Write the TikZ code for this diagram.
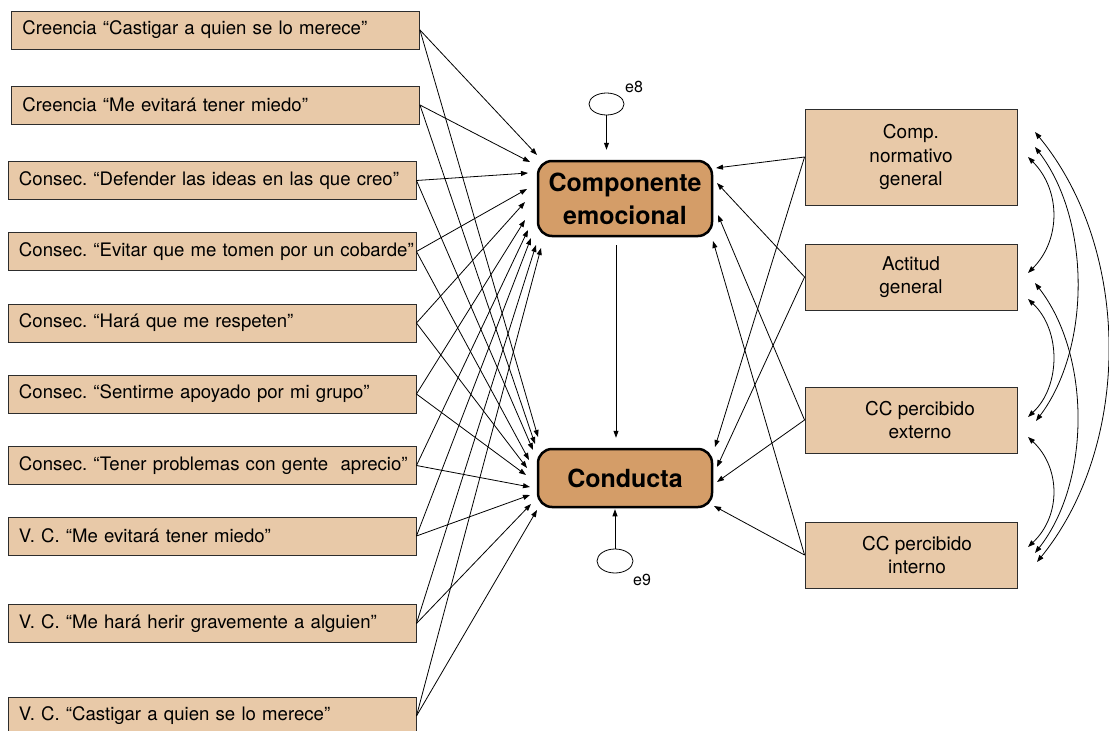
\documentclass[tikz,border=0pt]{standalone}
\usepackage{fontspec}
\setmainfont{TeX Gyre Heros}
\usetikzlibrary{arrows.meta,shapes.geometric,calc}
\definecolor{lboxc}{RGB}{232,201,168}
\definecolor{cboxc}{RGB}{212,157,104}
\definecolor{bord}{RGB}{45,45,45}
\frenchspacing
\begin{document}
\begin{tikzpicture}[x=1pt,y=-1pt,
  lbox/.style={draw=bord,line width=0.9pt,fill=lboxc,rectangle,text width=386pt,
    inner xsep=11pt,inner ysep=0pt,minimum height=38pt,align=left,
    font=\frenchspacing\fontsize{18.6}{23}\selectfont},
  rbox/.style={draw=bord,line width=0.9pt,fill=lboxc,rectangle,minimum width=212pt,
    inner sep=0pt,align=center,font=\fontsize{19}{23.5}\selectfont},
  cbox/.style={draw=black,line width=2.5pt,fill=cboxc,rectangle,rounded corners=14pt,
    minimum width=174pt,inner sep=0pt,align=center,
    font=\bfseries\fontsize{25}{33}\selectfont},
  err/.style={draw=black,line width=0.8pt,ellipse,inner sep=0pt},
  elab/.style={font=\fontsize{16}{16}\selectfont,inner sep=0pt},
  arr/.style={-{Triangle[length=7pt,width=5pt]},line width=0.8pt},
  dbl/.style={{Triangle[length=7pt,width=5pt]}-{Triangle[length=7pt,width=5pt]},line width=0.8pt}
]
\useasboundingbox (0,0) rectangle (1109,731);

% left boxes
\node[lbox] (L1) at (215.5,30) {\mbox{Creencia “Castigar a quien se lo merece”}};
\node[lbox] (L2) at (215.5,105) {\mbox{Creencia “Me evitará tener miedo”}};
\node[lbox] (L3) at (212,180.5) {\mbox{Consec. “Defender las ideas en las que creo”}};
\node[lbox] (L4) at (212,251.5) {\mbox{Consec. “Evitar que me tomen por un cobarde”}};
\node[lbox] (L5) at (212,323) {\mbox{Consec. “Hará que me respeten”}};
\node[lbox] (L6) at (212,394) {\mbox{Consec. “Sentirme apoyado por mi grupo”}};
\node[lbox] (L7) at (212,465.5) {\mbox{Consec. “Tener problemas con gente~~aprecio”}};
\node[lbox] (L8) at (212,536) {\mbox{V. C. “Me evitará tener miedo”}};
\node[lbox] (L9) at (212,623.5) {\mbox{V. C. “Me hará herir gravemente a alguien”}};
\node[lbox] (L10) at (212,716) {\mbox{V. C. “Castigar a quien se lo merece”}};

% central nodes
\node[cbox,minimum height=75pt] (ce) at (625,198.5) {Componente\\emocional};
\node[cbox,minimum height=58pt] (cd) at (625,478) {Conducta};

% errors
\node[err,minimum width=35pt,minimum height=22pt] (e8) at (606.5,104) {};
\node[elab] (e8t) at (634,87) {e8};
\node[err,minimum width=36pt,minimum height=24pt] (e9) at (615,561) {};
\node[elab] (e9t) at (642,580) {e9};

% right boxes
\node[rbox,minimum height=96pt] (R1) at (911,157) {Comp.\\normativo\\general};
\node[rbox,minimum height=66pt] (R2) at (911,277) {Actitud\\general};
\node[rbox,minimum height=66pt] (R3) at (911,420) {\hspace*{18pt}CC percibido\\\hspace*{18pt}externo};
\node[rbox,minimum height=66pt] (R4) at (911,555) {\hspace*{12pt}CC percibido\\\hspace*{12pt}interno};

% arrow targets on the left
\foreach \i/\x/\y in {1/537/155,2/530/162,3/528/173,4/527/189,5/525/202,
                      6/525/220,7/528/230,8/531/238,9/536/245,10/541/248}
  \coordinate (a\i) at (\x,\y);
\foreach \i/\x/\y in {1/538/437,2/535/444,3/533/450,4/529/460,5/527/468,
                      6/526/475,7/530/487,8/530/495,9/531/504,10/537/510}
  \coordinate (b\i) at (\x,\y);
% arrow targets on the right
\foreach \i/\x/\y in {1/716/168,2/717/183,3/718/215,4/713/241}
  \coordinate (c\i) at (\x,\y);
\foreach \i/\x/\y in {1/715/447,2/717/467,3/717/482,4/714/506}
  \coordinate (d\i) at (\x,\y);

\foreach \i in {1,...,10}{
  \draw[arr] (L\i.east) -- (a\i);
  \draw[arr] (L\i.east) -- (b\i);
}
\foreach \i in {1,...,4}{
  \draw[arr] (R\i.west) -- (c\i);
  \draw[arr] (R\i.west) -- (d\i);
}

% vertical arrows
\draw[arr,shorten >=10pt] (e8.south) -- (e8.south |- ce.north);
\draw[arr,shorten >=1pt] (e9.north) -- (e9.north |- cd.south);
\draw[arr,shorten <=8pt,shorten >=10pt] ([xshift=-9pt]ce.south) -- ([xshift=-9pt]cd.north);

% covariance arcs
\coordinate (ab1) at (1028,157); \coordinate (ab2) at (1028,273);
\coordinate (ac1) at (1035,147); \coordinate (ac2) at (1036,421);
\coordinate (ad1) at (1035,132); \coordinate (ad2) at (1037,562);
\coordinate (bc1) at (1028,299); \coordinate (bc2) at (1028,417);
\coordinate (bd1) at (1035,283); \coordinate (bd2) at (1035,553);
\coordinate (cd1) at (1028,437); \coordinate (cd2) at (1028,547);
\draw[dbl] (ab1) .. controls (1061,190) and (1061,240) .. (ab2);
\draw[dbl] (ac1) .. controls (1091,220) and (1091,348) .. (ac2);
\draw[dbl] (ad1) .. controls (1132,250) and (1132,445) .. (ad2);
\draw[dbl] (bc1) .. controls (1061,330) and (1061,386) .. (bc2);
\draw[dbl] (bd1) .. controls (1091,355) and (1091,482) .. (bd2);
\draw[dbl] (cd1) .. controls (1061,468) and (1061,516) .. (cd2);
\end{tikzpicture}
\end{document}
